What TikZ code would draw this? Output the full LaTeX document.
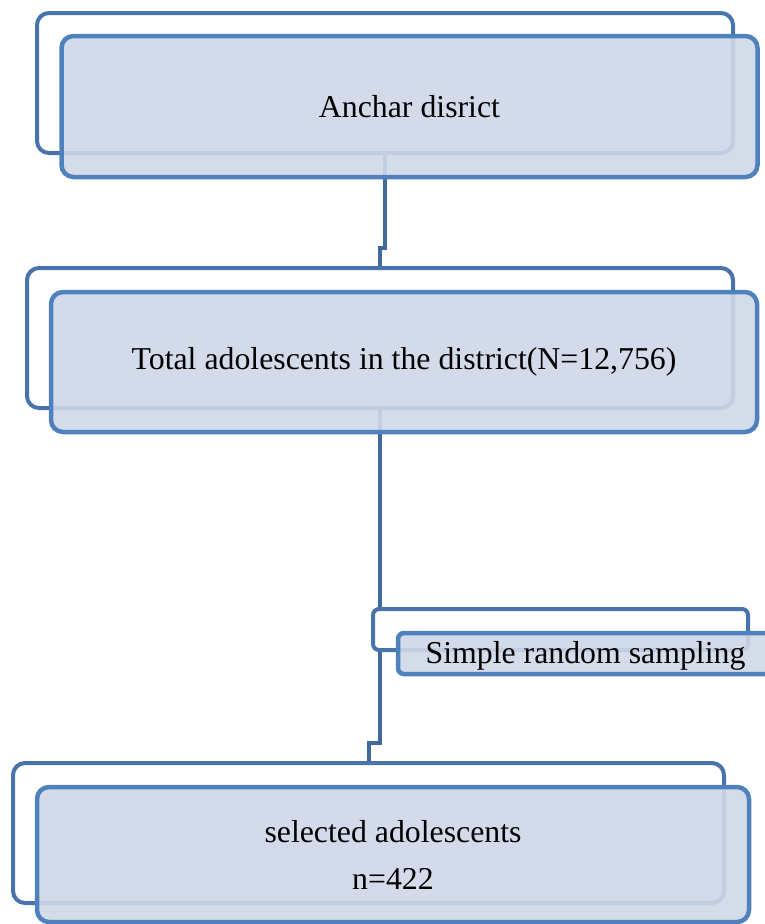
\documentclass[tikz,border=0pt]{standalone}
\usepackage{fontspec}
\setmainfont{Liberation Serif}
\usetikzlibrary{calc}
\definecolor{frontline}{HTML}{4F81BD}
\definecolor{backline}{HTML}{4874AB}
\definecolor{connline}{HTML}{41699B}
\definecolor{boxfill}{HTML}{CFD8E8}
\begin{document}
\begin{tikzpicture}[x=1pt,y=-1pt,
  backbox/.style={draw=backline, line width=4pt, rounded corners=12pt, inner sep=0pt, fill=white},
  frontbox/.style={draw=frontline, line width=4.5pt, rounded corners=12pt, inner sep=0pt, fill=boxfill, fill opacity=0.9, text opacity=1, font=\fontsize{31.8}{47}\selectfont, align=center},
  smallback/.style={backbox, rounded corners=6pt},
  smallfront/.style={frontbox, rounded corners=6pt, text height=25pt, text depth=6pt},
  conn/.style={draw=connline, line width=4pt}]
\useasboundingbox (0,0) rectangle (765,924);
% back boxes
\node[backbox, minimum width=696pt, minimum height=140pt] (b1back) at (385,83) {};
\node[backbox, minimum width=706pt, minimum height=140pt] (b2back) at (380,338) {};
\node[smallback, minimum width=375pt, minimum height=41pt] (sback) at (560.5,629.5) {};
\node[backbox, minimum width=711pt, minimum height=140pt] (b3back) at (368.5,833) {};
% connectors
\coordinate (j1) at (385,248);
\coordinate (j2) at (380,743);
\draw[conn] (b1back.south) -- (j1) -| (b2back.north);
\draw[conn] (b2back.south) -- (b2back.south |- sback.north);
\draw[conn] (b2back.south |- sback.south) -- (j2) -| (b3back.north);
% front boxes
\node[frontbox, minimum width=696pt, minimum height=141pt] (b1) at (409.5,106.5) {Anchar disrict};
\node[frontbox, minimum width=706pt, minimum height=140pt] (b2) at (404,362) {Total adolescents in the district(N=12,756)};
\node[smallfront, minimum width=375pt, minimum height=41pt] (s) at (585.5,653.5) {Simple random sampling};
\node[frontbox, minimum width=712pt, minimum height=135pt] (b3) at (393,854.5) {selected adolescents\\n=422};
\end{tikzpicture}
\end{document}
